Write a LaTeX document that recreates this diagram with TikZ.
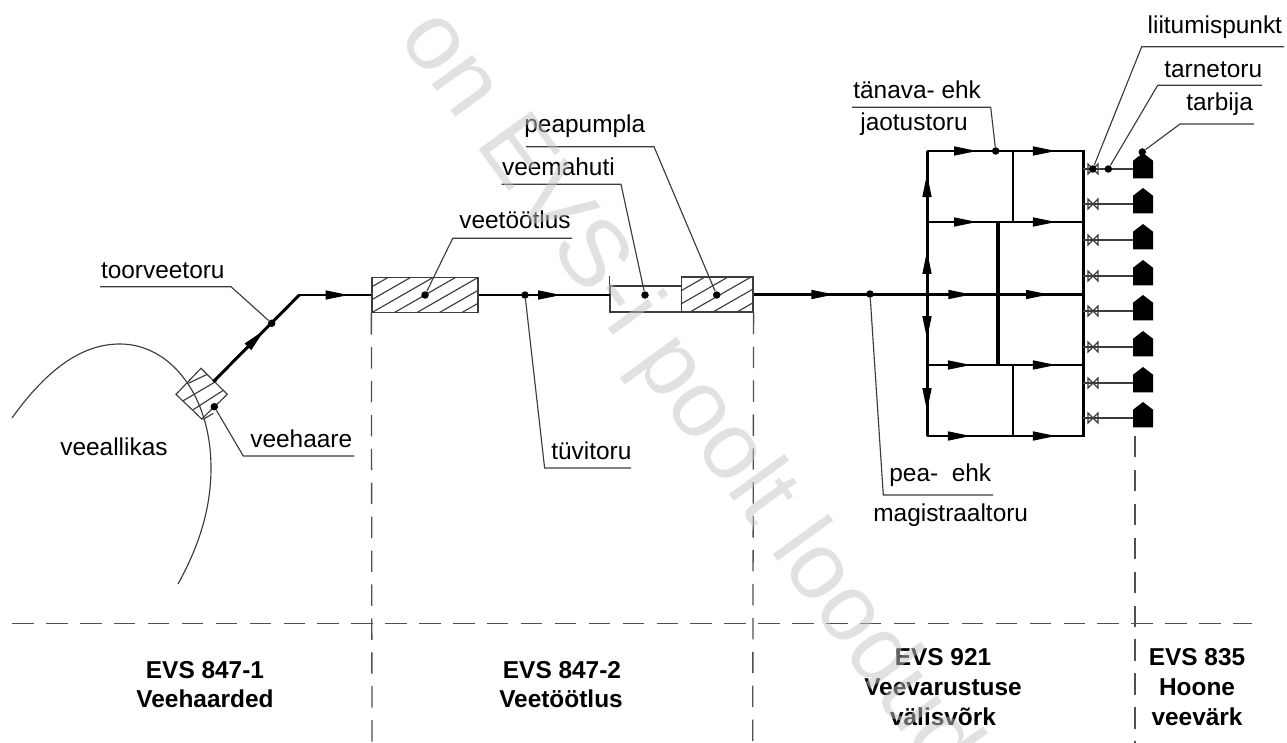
\documentclass[tikz,border=0pt]{standalone}
\usepackage{fontspec}
\setmainfont{Liberation Sans}
\usetikzlibrary{arrows.meta,decorations.markings}
\definecolor{LeaderGray}{HTML}{3C3C3C}
\definecolor{DashGray}{HTML}{505050}
\definecolor{MarkGray}{HTML}{C4C4C4}
\tikzset{
  lbl/.style={anchor=base west,inner sep=0pt,font=\fontsize{13.9}{16}\selectfont},
  evs/.style={anchor=base,inner sep=0pt,font=\fontsize{13.9}{16}\selectfont\bfseries},
  dot/.style={circle,fill=black,inner sep=0pt,minimum size=0.15cm},
  plant/.style={draw=LeaderGray,line width=0.75pt,inner sep=0pt},
  pipe/.style={line width=1.7pt,black},
  leader/.style={line width=0.65pt,LeaderGray},
  limit/.style={line width=0.75pt,DashGray,dash pattern=on 12.2pt off 7.1pt},
  hatch/.style={line width=0.65pt,LeaderGray},
  flow/.style={postaction={decorate,decoration={markings,
    mark=at position #1 with {\arrow{Triangle[length=0.48cm,width=0.17cm]}}}}}
}

\begin{document}
\begin{tikzpicture}[x=0.02cm,y=-0.02cm]
  \useasboundingbox (0,0) rectangle (1287,743);

  % veeallikas ja veehaare
  \draw[leader] (12,418) .. controls (50,365) and (85,344) .. (120,344)
    .. controls (170,344) and (211,395) .. (211,468)
    .. controls (211,510) and (198,548) .. (178,584);
  \draw[hatch] (201,368.3) -- (227.3,394.3) -- (201.7,419) -- (176,394.3) -- cycle;
  \draw[hatch] (188.3,383.3) -- (207.3,374.3);
  \draw[hatch] (183.3,400.7) -- (216.7,381);
  \draw[hatch] (192.7,410) -- (222.7,390.7);
  \draw[hatch] (203.3,419.3) -- (213.3,413.3);

  % jaamad
  \node[plant,minimum width=2.12cm,minimum height=0.7cm] (filter) at (425,295) {};
  \node[plant,minimum width=1.43cm,minimum height=0.52cm] (tank) at (645.7,299) {};
  \node[plant,minimum width=1.43cm,minimum height=0.7cm] (pump) at (717.2,294.5) {};
  \draw[plant] (tank.north west) -- ++(0,-9);
  \begin{scope}
    \clip (filter.south west) rectangle (filter.north east);
    \foreach \x in {327,349.5,372,394.5,417,439.5,462}
      \draw[hatch] (\x,312.5) -- ++(61,-35);
  \end{scope}
  \begin{scope}
    \clip (pump.south west) rectangle (pump.north east);
    \foreach \x in {644,667,690,713,737}
      \draw[hatch] (\x,312) -- ++(61,-35);
  \end{scope}

  % torud
  \coordinate (intakeout) at (213.3,381.7);
  \coordinate (bend) at (299.3,295);
  \coordinate (tankin) at (610,295);
  \coordinate (mainE) at (1083,294.5);
  \draw[pipe,flow=0.6] (intakeout) -- (bend);
  \draw[pipe,flow=0.697] (bend) -- (filter.west);
  \draw[pipe,flow=0.636] (filter.east) -- (tankin);
  \draw[pipe,flow=0.248,flow=0.664,flow=0.9] (pump.east) -- (mainE);

  % jaotusvork
  \coordinate (tl) at (927,151);
  \coordinate (tr) at (1083,151);
  \coordinate (ul) at (927,222);
  \coordinate (ur) at (1083,222);
  \coordinate (ml) at (927,294);
  \coordinate (ll) at (927,365);
  \coordinate (lr) at (1083,365);
  \coordinate (bl) at (927,436);
  \coordinate (br) at (1083,436);
  \draw[pipe,flow=0.327,flow=0.833] (tl) -- (tr);
  \draw[pipe,flow=0.327,flow=0.833] (ul) -- (ur);
  \draw[pipe,flow=0.288,flow=0.833] (ll) -- (lr);
  \draw[pipe,flow=0.288,flow=0.833] (bl) -- (br);
  \draw[pipe,flow=0.308,flow=0.846] (ml) -- (tl);
  \draw[pipe,flow=0.324,flow=0.831] (ml) -- (bl);
  \draw[pipe,line cap=rect] (tr) -- (br);
  \draw[pipe,line width=2.2pt] (998,222) -- (998,365);
  \draw[pipe,line width=1.4pt] (1013,151) -- (1013,222);
  \draw[pipe,line width=1.4pt] (1013,365) -- (1013,436);

  % tarbijad
  \foreach \y [count=\i] in {169,204,240,276,311,347,383,418} {
    \coordinate (tap\i) at (1083,\y);
    \coordinate (house\i) at (1133,\y);
    \draw[leader,line width=0.8pt] (tap\i) -- (house\i);
    \draw[hatch] (1088,\y-5) -- (1098,\y+5) -- (1098,\y-5) -- (1088,\y+5) -- cycle;
    \fill (1133,\y+9.3) -- (1133,\y-8.3) -- (1143,\y-16) -- (1153,\y-8.3) -- (1153,\y+9.3) -- cycle;
  }

  % piirid
  \draw[limit] (12.3,623.3) -- (1252,623.3);
  \draw[limit] (filter.south west) -- (372,743);
  \draw[limit] (pump.south east) -- (752.7,743);
  \draw[limit] (1135,436) -- (1135,743);

  % viiktekstid
  \node[dot] (dtoor) at (271.7,323.3) {};
  \node[dot] (dhaare) at (214.3,406.7) {};
  \node[dot] (dfilter) at (425,295) {};
  \node[dot] (dtyvi) at (525,295) {};
  \node[dot] (dtank) at (645,295) {};
  \node[dot] (dpump) at (716.7,295) {};
  \node[dot] (dpea) at (870,294) {};
  \node[dot] (dtanav) at (995.7,151) {};
  \node[dot] (dliit) at (1092.7,169) {};
  \node[dot] (dtarne) at (1108.3,169) {};
  \node[dot] (dtarb) at (1142.3,152) {};

  \node[lbl] (lallikas) at (60,455) {veeallikas};
  \node[lbl] (ltoor) at (100.7,278.3) {toorveetoru};
  \node[lbl] (lhaare) at (250,447.3) {veehaare};
  \node[lbl] (lfilter) at (459,228.3) {veetöötlus};
  \node[lbl] (ltank) at (501.7,175.7) {veemahuti};
  \node[lbl] (lpump) at (524,133) {peapumpla};
  \node[lbl] (ltyvi) at (551,459) {tüvitoru};
  \node[lbl] (lpea) at (889,481.7) {pea-\ \ ehk};
  \node[lbl] (lmag) at (873,521.7) {magistraaltoru};
  \node[lbl] (ltanav) at (853,98.3) {tänava- ehk};
  \node[lbl] (ljao) at (860,130.7) {jaotustoru};
  \node[lbl] (lliit) at (1147.3,33.3) {liitumispunkt};
  \node[lbl] (ltarne) at (1164,77.3) {tarnetoru};
  \node[lbl] (ltarb) at (1186,110.7) {tarbija};

  \draw[leader] (100,286.7) coordinate (a1) -- (231,286.7) coordinate (a2) -- (dtoor);
  \draw[leader] (354.3,456) coordinate (a3) -- (243.3,456) coordinate (a4) -- (dhaare);
  \draw[leader] (572,238.3) coordinate (a5) -- (452.7,238.3) coordinate (a6) -- (dfilter);
  \draw[leader] (501.7,184.3) coordinate (a7) -- (621,184.3) coordinate (a8) -- (dtank);
  \draw[leader] (526,146.7) coordinate (a9) -- (654,146.7) coordinate (a10) -- (dpump);
  \draw[leader] (631,468) coordinate (a11) -- (544.6,468) coordinate (a12) -- (dtyvi);
  \draw[leader] (993,495) coordinate (a13) -- (883.3,495) coordinate (a14) -- (dpea);
  \draw[leader] (852,107.3) coordinate (a15) -- (990.7,107.3) coordinate (a16) -- (dtanav);
  \draw[leader] (1284,46.7) coordinate (a17) -- (1141.7,46.7) coordinate (a18) -- (dliit);
  \draw[leader] (1262,85.3) coordinate (a19) -- (1157.7,85.3) coordinate (a20) -- (dtarne);
  \draw[leader] (1254,124) coordinate (a21) -- (1180,124) coordinate (a22) -- (dtarb);

  \node[evs] (e1a) at (205,678.7) {EVS 847-1};
  \node[evs] (e1b) at (205,707.3) {Veehaarded};
  \node[evs] (e2a) at (562,678.7) {EVS 847-2};
  \node[evs] (e2b) at (561,707.3) {Veetöötlus};
  \node[evs] (e3a) at (943,665) {EVS 921};
  \node[evs] (e3b) at (943,695) {Veevarustuse};
  \node[evs] (e3c) at (943,725) {välisvõrk};
  \node[evs] (e4a) at (1197,665) {EVS 835};
  \node[evs] (e4b) at (1197,695) {Hoone};
  \node[evs] (e4c) at (1197,725) {veevärk};

  % vesimark
  \begin{scope}
    \clip (0,0) rectangle (1287,743);
    \node[anchor=base west,inner sep=0pt,rotate=-54,MarkGray,opacity=0.5,
      font=\fontsize{54}{60}\selectfont] (mark) at (397,37) {on EVS-i poolt loodud};
  \end{scope}
\end{tikzpicture}
\end{document}
